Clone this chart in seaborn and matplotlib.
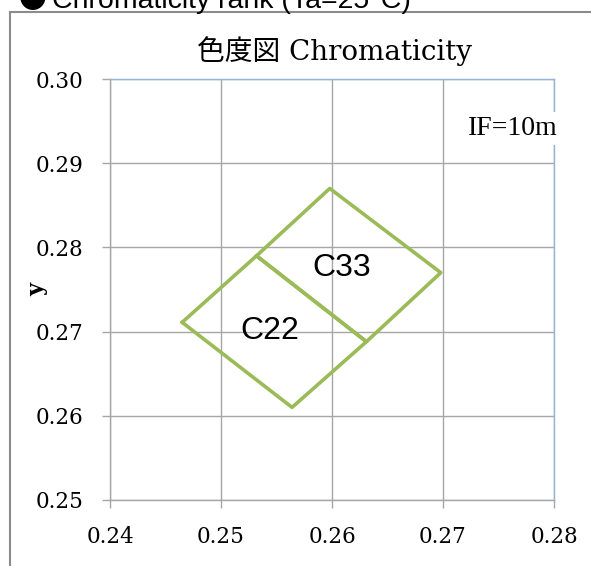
import pandas as pd
import seaborn as sns
import matplotlib.pyplot as plt
from matplotlib.patches import Rectangle

# Chromaticity rank corners (x, y), closed polygons
c22_x = [0.2465, 0.2532, 0.2631, 0.2564, 0.2465]
c22_y = [0.2711, 0.2790, 0.2688, 0.2610, 0.2711]
c33_x = [0.2532, 0.2598, 0.2698, 0.2631, 0.2532]
c33_y = [0.2790, 0.2870, 0.2770, 0.2688, 0.2790]

rank_names = ["C22", "C33"]
label_x = [0.2544, 0.2609]
label_y = [0.2701, 0.2776]

x_ticks = [0.24, 0.25, 0.26, 0.27, 0.28]
y_ticks = [0.25, 0.26, 0.27, 0.28, 0.29, 0.30]

GREEN = "#9bbb59"
GRID = "#a6a6a6"
BLUE_SPINE = "#95b3d7"

sns.set_style("white")
plt.rcParams["font.family"] = ["DejaVu Serif", "Noto Sans CJK JP"]
plt.rcParams["text.color"] = "black"
plt.rcParams["xtick.color"] = "black"
plt.rcParams["ytick.color"] = "black"
plt.rcParams["axes.labelcolor"] = "black"

df = pd.concat([
    pd.DataFrame({"x": c22_x, "y": c22_y, "rank": "C22"}),
    pd.DataFrame({"x": c33_x, "y": c33_y, "rank": "C33"}),
], ignore_index=True)

fig = plt.figure(figsize=(5.91, 5.66), dpi=100)
ax = fig.add_axes([110 / 591, 1 - 500 / 566, 444 / 591, 421 / 566])

# outer frame of the datasheet box
fig.patches.append(Rectangle((10 / 591, -0.1), 1.2, 1 - 12 / 566 + 0.1,
                             transform=fig.transFigure, fill=False,
                             edgecolor="#8c8c8c", linewidth=1.5))

# heading cut off at the top of the picture
head_y = 1 - 7.5 / 566
fig.text(19 / 591, head_y, "●", fontsize=20, family="Noto Sans CJK JP",
         va="baseline", ha="left")
fig.text(52 / 591, head_y, "Chromaticity rank (Ta=25°C)", fontsize=20.5,
         family="Liberation Sans", va="baseline", ha="left")

sns.lineplot(data=df, x="x", y="y", units="rank", estimator=None, sort=False,
             color=GREEN, linewidth=2.6, ax=ax, zorder=3)

for name, lx, ly in zip(rank_names, label_x, label_y):
    ax.text(lx, ly, name, fontsize=23, family="Liberation Sans",
            ha="center", va="center", zorder=4)

ax.set_xlim(0.24, 0.28)
ax.set_ylim(0.25, 0.30)
ax.set_xticks(x_ticks)
ax.set_yticks(y_ticks)
ax.set_xticklabels([f"{v:.2f}" for v in x_ticks])
ax.set_yticklabels([f"{v:.2f}" for v in y_ticks])
ax.tick_params(axis="both", labelsize=15.5, direction="out", length=6,
               width=1, color=GRID, labelcolor="black", pad=13,
               bottom=True, left=True)

ax.grid(True, color=GRID, linewidth=1)
ax.set_axisbelow(True)

for side in ["left", "bottom"]:
    ax.spines[side].set_color(GRID)
    ax.spines[side].set_linewidth(1)
for side in ["top", "right"]:
    ax.spines[side].set_color(BLUE_SPINE)
    ax.spines[side].set_linewidth(1)

ax.set_title("色度図 Chromaticity", fontsize=20, pad=14)
ax.title.set_position((0.505, 1.0))

ax.set_xlabel("x", fontsize=16, fontweight="bold")
ax.set_ylabel("y", fontsize=16, fontweight="bold")
ax.xaxis.set_label_coords(0.502, -0.145)
ax.yaxis.set_label_coords(-0.138, 0.5)

ax.text(0.908, 0.883, "IF=10m", transform=ax.transAxes, fontsize=20,
        family="Liberation Serif", ha="center", va="center", zorder=5,
        bbox=dict(boxstyle="square,pad=0.15", facecolor="white",
                  edgecolor="none"), clip_on=False)

fig.savefig("out.png", dpi=100)
